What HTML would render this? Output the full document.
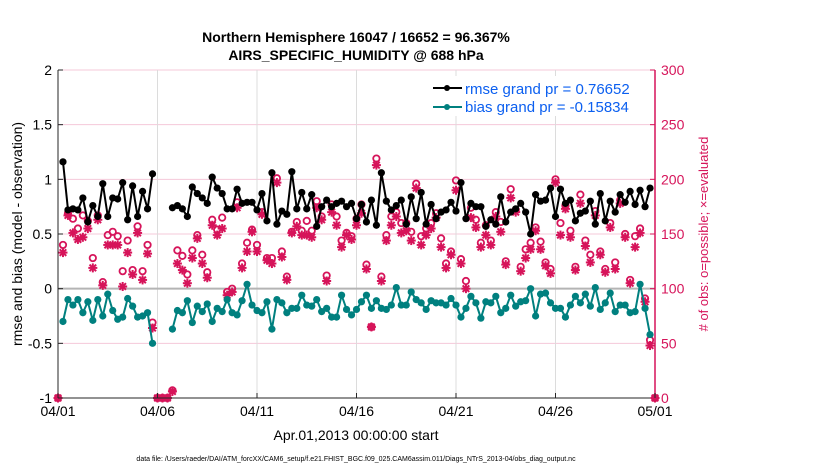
<!DOCTYPE html>
<html><head><meta charset="utf-8"><style>
body{margin:0;background:#fff;font-family:"Liberation Sans",sans-serif}
svg text{font-family:"Liberation Sans",sans-serif}
</style></head><body>
<svg id="chart" width="830" height="470" viewBox="0 0 830 470">
<text x="356" y="42" text-anchor="middle" font-size="14" font-weight="bold">Northern Hemisphere 16047 / 16652 = 96.367%</text>
<text x="356" y="60" text-anchor="middle" font-size="14" font-weight="bold">AIRS_SPECIFIC_HUMIDITY @ 688 hPa</text>
<g id="grid"></g>
<g id="marks"></g>
<g id="axes"></g>
<g>
<rect x="428" y="76" width="222" height="40" fill="#fff"/>
<g><line x1="433" y1="88" x2="462" y2="88" stroke="#000" stroke-width="2"/><circle cx="447" cy="88" r="3" fill="#000"/><text x="465" y="94" font-size="15" fill="#0b5ff0">rmse grand pr = 0.76652</text></g>
<g><line x1="433" y1="107" x2="462" y2="107" stroke="#00807f" stroke-width="2"/><circle cx="447" cy="107" r="3" fill="#00807f"/><text x="465" y="112" font-size="15" fill="#0b5ff0">bias grand pr = -0.15834</text></g>
</g>
<text transform="translate(22,234) rotate(-90)" text-anchor="middle" font-size="14">rmse and bias (model - observation)</text>
<text transform="translate(708,234) rotate(-90)" text-anchor="middle" font-size="13" fill="#d6145a"># of obs: o=possible; ×=evaluated</text>
<text x="356" y="440" text-anchor="middle" font-size="14">Apr.01,2013 00:00:00 start</text>
<text x="356" y="461" text-anchor="middle" font-size="7">data file: /Users/raeder/DAI/ATM_forcXX/CAM6_setup/f.e21.FHIST_BGC.f09_025.CAM6assim.011/Diags_NTrS_2013-04/obs_diag_output.nc</text>
</svg>
<script>
const xTickLabels=["04/01","04/06","04/11","04/16","04/21","04/26","05/01"];
const xTickDays=[0,5,10,15,20,25,30];
const leftTicks=[-1,-0.5,0,0.5,1,1.5,2];
const rightTicks=[0,50,100,150,200,250,300];
const rmse=[null,1.16,0.72,0.73,0.72,0.83,0.61,0.76,0.66,0.96,0.66,0.83,0.82,0.97,0.63,0.94,0.66,0.89,0.73,1.05,null,null,null,
0.74,0.76,0.73,0.66,0.93,0.87,0.83,0.78,1.02,0.92,0.87,0.73,0.73,0.91,0.78,0.79,
0.79,0.72,0.87,0.62,1.06,0.59,0.71,0.68,1.07,0.73,0.88,0.73,0.86,0.57,0.75,0.81,0.75,0.78,0.80,0.75,0.78,0.64,0.77,0.61,0.81,0.58,1.06,0.80,0.72,0.76,0.81,0.59,0.84,0.64,0.88,0.59,0.77,0.64,0.70,0.72,
0.79,0.71,0.97,0.64,0.78,0.75,0.75,0.57,0.63,0.59,0.84,0.61,0.70,0.73,0.78,0.70,0.50,0.86,0.80,0.81,0.92,0.66,0.91,0.78,0.81,0.62,0.69,0.71,0.80,0.59,0.87,0.62,0.80,0.70,0.86,0.79,0.89,0.77,0.90,0.75,0.92,null];
const bias=[null,-0.30,-0.10,-0.15,-0.10,-0.22,-0.12,-0.29,-0.10,-0.25,-0.05,-0.20,-0.28,-0.26,-0.09,-0.16,-0.26,-0.25,-0.22,-0.50,null,null,null,
-0.37,-0.20,-0.22,-0.11,-0.31,-0.16,-0.21,-0.14,-0.30,-0.18,-0.21,-0.10,-0.22,-0.24,-0.11,0.04,
-0.15,-0.20,-0.22,-0.12,-0.37,-0.10,-0.13,-0.22,-0.18,-0.18,-0.06,-0.15,-0.16,-0.10,-0.21,-0.18,-0.26,-0.26,-0.06,-0.19,-0.24,-0.19,-0.12,-0.06,-0.18,-0.11,-0.18,-0.19,-0.15,0.01,-0.15,-0.15,-0.03,-0.10,-0.13,-0.19,-0.11,-0.13,-0.13,-0.15,
-0.09,-0.15,-0.26,-0.18,-0.07,-0.13,-0.27,-0.12,-0.13,-0.07,-0.22,-0.18,-0.06,-0.16,-0.12,-0.11,0.00,-0.25,-0.05,-0.04,-0.13,-0.18,-0.18,-0.26,-0.15,-0.07,-0.13,-0.05,-0.16,0.01,-0.19,-0.13,-0.04,-0.21,-0.15,-0.15,-0.22,-0.21,0.04,-0.18,-0.42,null];
const evaluated=[0,133,167,151,145,147,155,119,163,103,140,140,140,102,133,113,151,108,132,64,0,0,0,
6,123,117,105,128,146,123,110,158,149,155,94,97,174,119,134,
152,134,168,126,123,197,129,108,151,157,149,149,147,174,163,107,170,158,138,149,145,158,169,118,65,213,107,144,158,166,151,153,144,192,140,149,155,165,138,119,
131,190,123,100,165,156,138,149,140,166,152,122,183,170,116,128,136,153,136,121,114,197,149,173,147,117,178,139,124,167,131,115,156,118,178,147,105,138,151,88,48,0];
const possible=[0,140,169,164,155,167,162,128,167,106,149,152,148,116,144,117,157,116,140,69,0,0,0,
7,135,130,113,135,149,131,115,163,154,165,97,100,179,123,142,
154,140,170,128,128,201,134,111,152,161,153,162,153,180,166,112,177,166,144,151,148,164,177,122,65,219,111,149,166,170,160,160,152,196,148,155,160,169,146,123,
134,199,127,107,174,163,142,158,144,170,161,125,191,172,120,136,142,156,143,124,118,200,160,176,153,120,186,144,131,171,134,118,160,124,181,150,108,148,155,91,53,0];

const NS="http://www.w3.org/2000/svg";
const X0=58,X1=655,Y0=398,Y1=70;
function xPos(i){return X0+(i/4)*(X1-X0)/30;}
function xDay(d){return X0+d*(X1-X0)/30;}
function yL(v){return Y0-(v+1)*(Y0-Y1)/3;}
function yR(c){return Y0-c*(Y0-Y1)/300;}
function mk(tag,attrs,parent){const e=document.createElementNS(NS,tag);for(const k in attrs)e.setAttribute(k,attrs[k]);parent.appendChild(e);return e;}
const grid=document.getElementById('grid'),marks=document.getElementById('marks'),axes=document.getElementById('axes');
leftTicks.forEach(v=>{if(v===0)return;const l=mk('line',{x1:X0,x2:X1,y1:yL(v),y2:yL(v),stroke:'#f5c8da','stroke-width':1},grid);

});
xTickDays.forEach(d=>{const l=mk('line',{x1:xDay(d),x2:xDay(d),y1:Y1,y2:Y0,stroke:'#dcdcdc','stroke-width':1},grid);

});
const z=mk('line',{x1:X0,x2:X1,y1:yL(0),y2:yL(0),stroke:'#b4b4b4','stroke-width':2},grid);


function star(cx,cy){const g=mk('g',{stroke:'#d6145a','stroke-width':2},marks);


const r=4.5;mk('line',{x1:cx-r,y1:cy,x2:cx+r,y2:cy},g);mk('line',{x1:cx,y1:cy-r,x2:cx,y2:cy+r},g);
mk('line',{x1:cx-3.3,y1:cy-3.3,x2:cx+3.3,y2:cy+3.3},g);mk('line',{x1:cx-3.3,y1:cy+3.3,x2:cx+3.3,y2:cy-3.3},g);}
possible.forEach((c,i)=>{const e=mk('circle',{cx:xPos(i),cy:yR(c),r:3.2,fill:'none',stroke:'#d6145a','stroke-width':1.8},marks);

});
evaluated.forEach((c,i)=>star(xPos(i),yR(c)));
function series(arr,color,name){let d='',pen=false;arr.forEach((v,i)=>{if(v===null){pen=false;return;}d+=(pen?'L':'M')+xPos(i).toFixed(1)+' '+yL(v).toFixed(1);pen=true;});
const p=mk('path',{d:d,fill:'none',stroke:color,'stroke-width':2},marks);


arr.forEach((v,i)=>{if(v===null)return;const c=mk('circle',{cx:xPos(i),cy:yL(v),r:3.6,fill:color},marks);

});}
series(rmse,'#000','rmse');
series(bias,'#00807f','bias');
const la=mk('line',{x1:X0,x2:X0,y1:Y1,y2:Y0,stroke:'#262626','stroke-width':1},axes);


const ba=mk('line',{x1:X0,x2:X1,y1:Y0,y2:Y0,stroke:'#262626','stroke-width':1},axes);


const ra=mk('line',{x1:X1,x2:X1,y1:Y1,y2:Y0,stroke:'#d6145a','stroke-width':1.5},axes);


leftTicks.forEach(v=>{mk('line',{x1:X0,x2:X0+5,y1:yL(v),y2:yL(v),stroke:'#262626'},axes);
const t=mk('text',{x:X0-6,y:yL(v)+5,'text-anchor':'end','font-size':14},axes);t.textContent=String(v);

});
rightTicks.forEach(v=>{mk('line',{x1:X1-5,x2:X1,y1:yR(v),y2:yR(v),stroke:'#d6145a'},axes);
const t=mk('text',{x:X1+6,y:yR(v)+5,'font-size':14,fill:'#d6145a'},axes);t.textContent=String(v);

});
xTickDays.forEach((d,k)=>{mk('line',{x1:xDay(d),x2:xDay(d),y1:Y0-5,y2:Y0,stroke:'#262626'},axes);
const t=mk('text',{x:xDay(d),y:Y0+18,'text-anchor':'middle','font-size':14},axes);t.textContent=xTickLabels[k];

});
</script>
</body></html>
